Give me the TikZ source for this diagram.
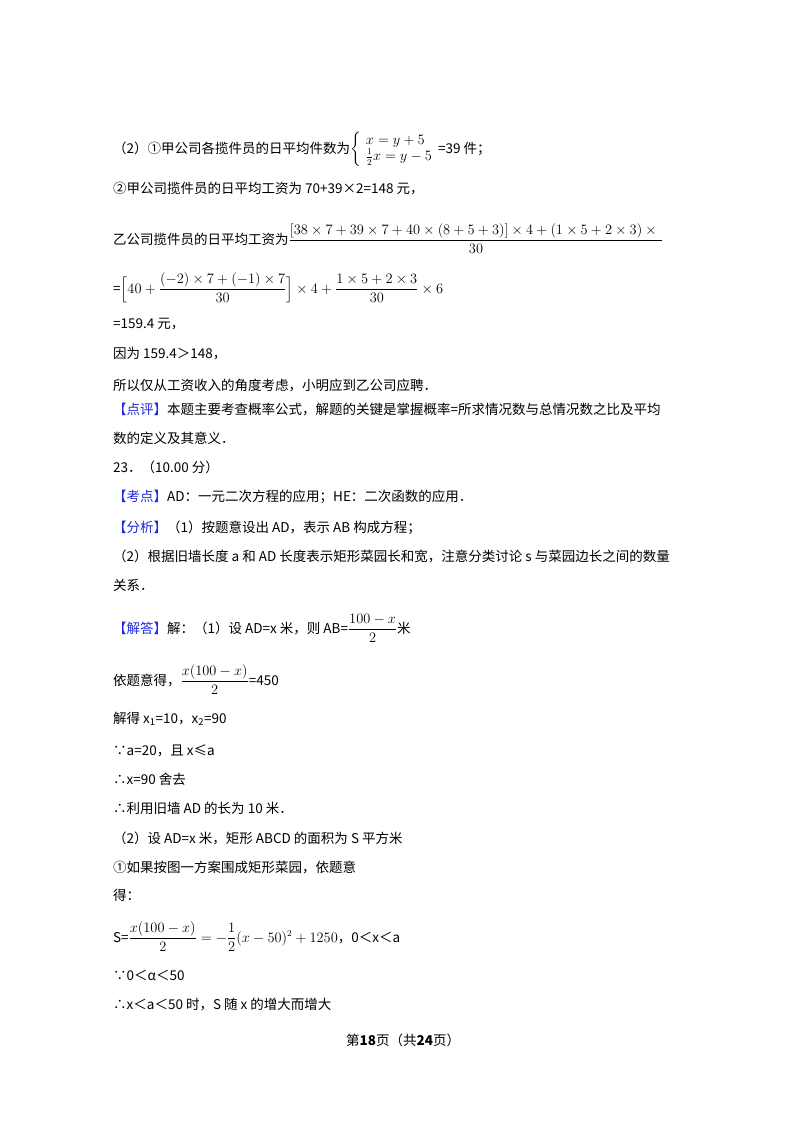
\documentclass[tikz,border=0pt]{standalone}
\usepackage{amsmath}
\usepackage{fontspec}
\setmainfont{Noto Sans CJK SC}
\definecolor{lbl}{RGB}{30,40,220}
\begin{document}
\begin{tikzpicture}[x=1pt,y=-1pt,t/.style={anchor=base west,inner sep=0pt,font=\fontsize{13.5}{16}\selectfont}]
\useasboundingbox[fill=white] (0,0) rectangle (800,1132);
\newcommand{\bl}[1]{\textcolor{lbl}{#1}}
\node[t] (l1) at (113,153) {（2）①甲公司各揽件员的日平均件数为$\left\{\begin{array}{l}x=y+5\\ \frac{1}{2}x=y-5\end{array}\right.$=39 件；};
\node[t] (l2) at (113,193) {②甲公司揽件员的日平均工资为 70+39×2=148 元，};
\node[t] (l3) at (113,244) {乙公司揽件员的日平均工资为$\dfrac{[38\times7+39\times7+40\times(8+5+3)]\times4+(1\times5+2\times3)\times\text{\,}}{30}$};
\node[t] (l4) at (113,293) {=$\Big[40+\dfrac{(-2)\times7+(-1)\times7}{30}\Big]\times4+\dfrac{1\times5+2\times3}{30}\times6$};
\node[t] (l5) at (113,328) {=159.4 元，};
\node[t] (l6) at (113,358) {因为 159.4＞148，};
\node[t] (l7) at (113,390) {所以仅从工资收入的角度考虑，小明应到乙公司应聘．};
\node[t] (l8) at (113,414) {\bl{【点评】}本题主要考查概率公式，解题的关键是掌握概率=所求情况数与总情况数之比及平均};
\node[t] (l9) at (113,443) {数的定义及其意义．};
\node[t] (l10) at (113,472) {23．（10.00 分）};
\node[t] (l11) at (113,501) {\bl{【考点】}AD：一元二次方程的应用；HE：二次函数的应用．};
\node[t] (l12) at (113,532) {\bl{【分析】}（1）按题意设出 AD，表示 AB 构成方程；};
\node[t] (l13) at (113,561) {（2）根据旧墙长度 a 和 AD 长度表示矩形菜园长和宽，注意分类讨论 s 与菜园边长之间的数量};
\node[t] (l14) at (113,590) {关系．};
\node[t] (l15) at (113,633) {\bl{【解答】}解：（1）设 AD=x 米，则 AB=$\dfrac{100-x}{2}$米};
\node[t] (l16) at (113,685) {依题意得，$\dfrac{x(100-x)}{2}$=450};
\node[t] (l17) at (113,723) {解得 x\textsubscript{1}=10，x\textsubscript{2}=90};
\node[t] (l18) at (113,755) {∵a=20，且 x≤a};
\node[t] (l19) at (113,784) {∴x=90 舍去};
\node[t] (l20) at (113,813) {∴利用旧墙 AD 的长为 10 米．};
\node[t] (l21) at (113,843) {（2）设 AD=x 米，矩形 ABCD 的面积为 S 平方米};
\node[t] (l22) at (113,872) {①如果按图一方案围成矩形菜园，依题意};
\node[t] (l23) at (113,900) {得：};
\node[t] (l24) at (113,942) {S=$\dfrac{x(100-x)}{2}=-\dfrac{1}{2}(x-50)^2+1250$，0＜x＜a};
\node[t] (l25) at (113,980) {∵0＜α＜50};
\node[t] (l26) at (113,1009) {∴x＜a＜50 时，S 随 x 的增大而增大};
\node[t] (ft) at (346,1045) {第\textbf{18}页（共\textbf{24}页）};
\end{tikzpicture}
\end{document}
